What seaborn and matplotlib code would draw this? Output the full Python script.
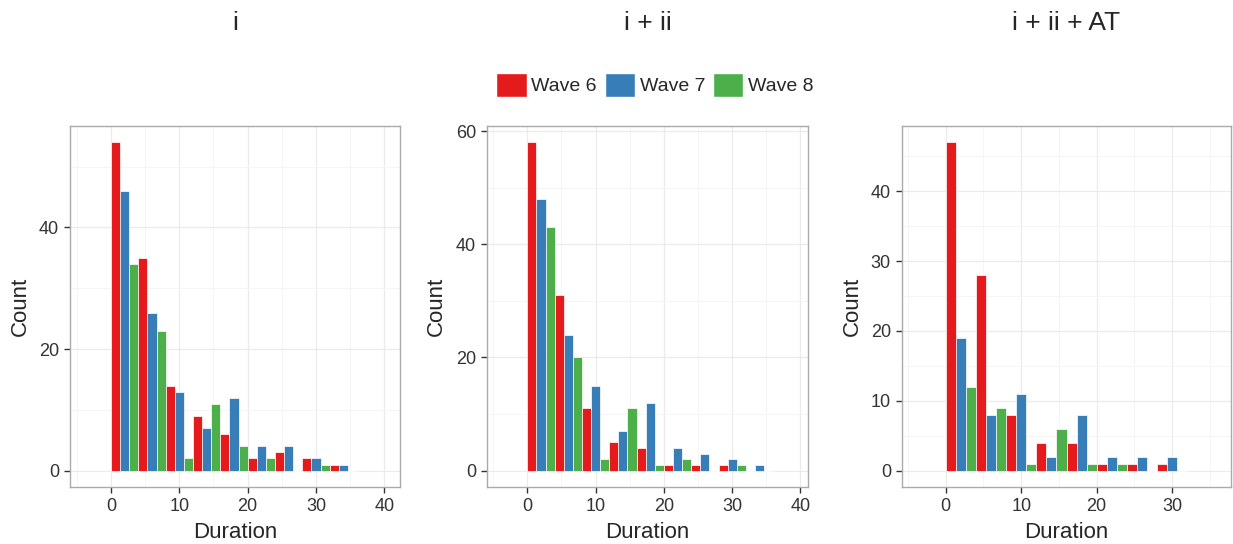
import numpy as np
import pandas as pd
import matplotlib
matplotlib.use('Agg')
import matplotlib.pyplot as plt
from matplotlib.patches import Patch
from matplotlib.ticker import MultipleLocator
import seaborn as sns

# bin start of each 4-unit duration bin
bin_starts = [0, 4, 8, 12, 16, 20, 24, 28, 32]
waves = ['Wave 6', 'Wave 7', 'Wave 8']
colors = ['#E41A1C', '#377EB8', '#4DAF4A']

# counts per bin
i_w6 = [54, 35, 14, 9, 6, 2, 3, 2, 1]
i_w7 = [46, 26, 13, 7, 12, 4, 4, 2, 1]
i_w8 = [34, 23, 2, 11, 4, 2, 0, 1, 0]

ii_w6 = [58, 31, 11, 5, 4, 1, 1, 1, 0]
ii_w7 = [48, 24, 15, 7, 12, 4, 3, 2, 1]
ii_w8 = [43, 20, 2, 11, 1, 2, 0, 1, 0]

at_w6 = [47, 28, 8, 4, 4, 1, 1, 1]
at_w7 = [19, 8, 11, 2, 8, 2, 2, 2]
at_w8 = [12, 9, 1, 6, 1, 1, 0, 0]

titles = ['i', 'i + ii', 'i + ii + AT']


def make_df(w6, w7, w8):
    rows = []
    for wave, counts in zip(waves, [w6, w7, w8]):
        for b, c in zip(bin_starts, counts):
            rows.append({'duration': b, 'count': c, 'wave': wave})
    return pd.DataFrame(rows)


panels = [
    (make_df(i_w6, i_w7, i_w8), (0, 36), (-6.0, 42.3), (-2.7, 56.7), 20),
    (make_df(ii_w6, ii_w7, ii_w8), (0, 36), (-5.9, 41.1), (-2.9, 60.9), 20),
    (make_df(at_w6, at_w7, at_w8), (0, 32), (-5.8, 37.8), (-2.35, 49.35), 10),
]

sns.set_style('white')
plt.rcParams['font.family'] = ['Liberation Sans', 'DejaVu Sans']

W, H = 1233, 544
fig = plt.figure(figsize=(W / 100, H / 100), dpi=100)
boxes = [(70, 400), (487, 808), (902, 1231)]
top, bottom = 126, 487

for (df, brange, xlim, ylim, ystep), (x0, x1), title in zip(panels, boxes, titles):
    ax = fig.add_axes([x0 / W, (H - bottom) / H, (x1 - x0) / W, (bottom - top) / H])
    sns.histplot(data=df, x='duration', weights='count', hue='wave', hue_order=waves,
                 binwidth=4, binrange=brange, multiple='dodge', shrink=1,
                 palette=colors, alpha=1, edgecolor='white', linewidth=0.5,
                 legend=False, ax=ax, zorder=3)
    ax.set_xlim(*xlim)
    ax.set_ylim(*ylim)
    ax.xaxis.set_major_locator(MultipleLocator(10))
    ax.xaxis.set_minor_locator(MultipleLocator(5))
    ax.yaxis.set_major_locator(MultipleLocator(ystep))
    ax.yaxis.set_minor_locator(MultipleLocator(ystep / 2))
    ax.grid(which='major', color='#ebebeb', linewidth=0.9, zorder=0)
    ax.grid(which='minor', color='#f4f4f4', linewidth=0.6, zorder=0)
    ax.set_axisbelow(True)
    ax.tick_params(which='major', direction='out', length=4, width=1, color='#333333',
                   labelsize=13, labelcolor='#333333', pad=4, bottom=True, left=True)
    ax.tick_params(which='minor', length=0)
    for s in ax.spines.values():
        s.set_color('#aaaaaa')
        s.set_linewidth(1)
    ax.set_xlabel('Duration', fontsize=16, labelpad=5)
    ax.set_ylabel('Count', fontsize=16, labelpad=6)
    ax.set_title(title, fontsize=19, pad=69)

handles = [Patch(facecolor=c, edgecolor='white', label=w) for c, w in zip(colors, waves)]
fig.legend(handles=handles, loc='center', bbox_to_anchor=(655 / W, 1 - 85 / H), ncol=3,
           frameon=False, fontsize=14, handlelength=1.55, handleheight=1.5,
           handletextpad=0.25, columnspacing=0.4)

fig.savefig('out.png', dpi=100)
